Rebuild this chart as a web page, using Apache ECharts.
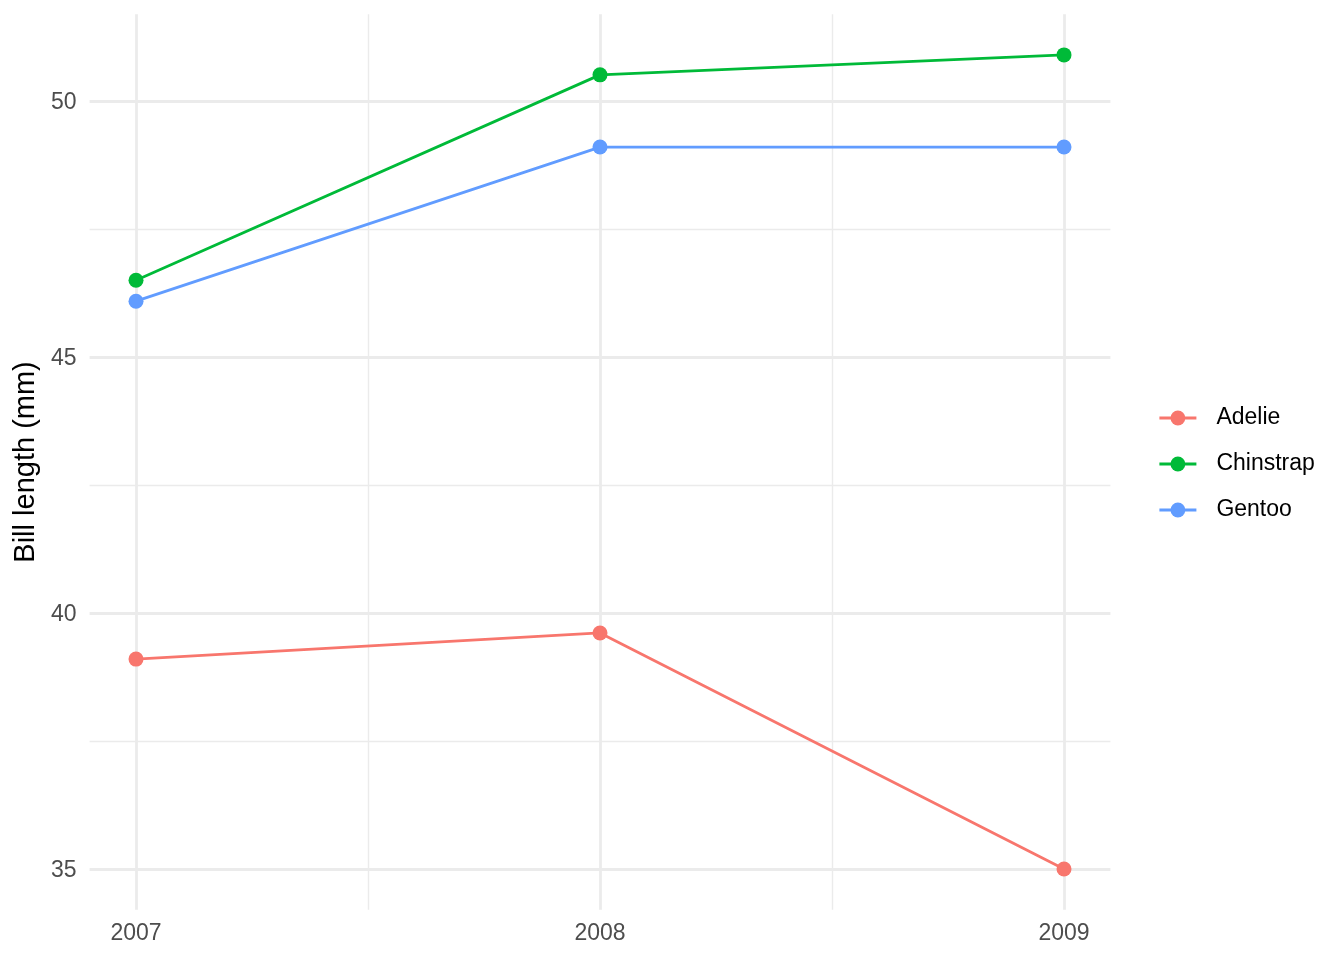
<!DOCTYPE html>
<html><head><meta charset="utf-8">
<script src="https://cdn.jsdelivr.net/npm/echarts@6/dist/echarts.min.js"></script>
<style>html,body{margin:0;padding:0;background:#fff}#c{width:1344px;height:960px}</style>
</head><body><div id="c"></div>
<script>
// ---- data ----
const years = [2007, 2008, 2009];
const speciesNames = ['Adelie', 'Chinstrap', 'Gentoo'];
const adelie = [39.10, 39.61, 35.00];
const chinstrap = [46.50, 50.51, 50.90];
const gentoo = [46.09, 49.10, 49.10];
const xTicks = [2007, 2008, 2009];
const xMinor = [2007.5, 2008.5];
const yTicks = [35, 40, 45, 50];
const yMinor = [37.5, 42.5, 47.5];
const yTitle = 'Bill length (mm)';

const colors = ['#F8766D', '#00BA38', '#619CFF'];
const FONT = '"Liberation Sans", Arial, Helvetica, sans-serif';

const xMin = 2006.9, xMax = 2009.1;
const yMin = 34.205, yMax = 51.695;

const seriesValues = [adelie, chinstrap, gentoo];

const gridLines = [];
xTicks.forEach(v => gridLines.push({xAxis: v, lineStyle: {color: '#EBEBEB', width: 2.8, type: 'solid'}}));
xMinor.forEach(v => gridLines.push({xAxis: v, lineStyle: {color: '#EBEBEB', width: 1.4, type: 'solid'}}));
yTicks.forEach(v => gridLines.push({yAxis: v, lineStyle: {color: '#EBEBEB', width: 2.8, type: 'solid'}}));
yMinor.forEach(v => gridLines.push({yAxis: v, lineStyle: {color: '#EBEBEB', width: 1.4, type: 'solid'}}));

const chart = echarts.init(document.getElementById('c'), null, {renderer: 'canvas'});
const series = [{
  type: 'line', name: '_grid', data: [], z: 1, silent: true,
  markLine: {
    z: 1, silent: true, symbol: 'none', animation: false,
    label: {show: false}, emphasis: {disabled: true},
    data: gridLines
  }
}];
speciesNames.forEach((name, i) => {
  series.push({
    type: 'line', name: name, z: 10,
    data: years.map((y, j) => [y, seriesValues[i][j]]),
    symbol: 'circle', symbolSize: 15, showSymbol: true,
    lineStyle: {color: colors[i], width: 2.8},
    itemStyle: {color: colors[i]},
    emphasis: {disabled: true}
  });
});

chart.setOption({
  animation: false,
  backgroundColor: '#ffffff',
  textStyle: {fontFamily: FONT},
  grid: {left: 89.6, right: 233.6, top: 14.2, bottom: 50.3, containLabel: false, outerBoundsMode: 'none'},
  xAxis: {
    type: 'value', min: xMin, max: xMax,
    axisLine: {show: false}, axisTick: {show: false}, splitLine: {show: false},
    axisLabel: {customValues: xTicks, color: '#4D4D4D', fontSize: 23, margin: 12, fontFamily: FONT, formatter: v => String(v)}
  },
  yAxis: {
    type: 'value', min: yMin, max: yMax,
    axisLine: {show: false}, axisTick: {show: false}, splitLine: {show: false},
    axisLabel: {customValues: yTicks, color: '#4D4D4D', fontSize: 23, margin: 13, fontFamily: FONT,
      formatter: v => '{t|' + v + '}', rich: {t: {fontSize: 23, color: '#4D4D4D', fontFamily: FONT, padding: [4, 0, 0, 0]}}},
    name: yTitle, nameLocation: 'middle', nameGap: 45,
    nameTextStyle: {color: '#000000', fontSize: 29, fontFamily: FONT}
  },
  legend: {
    data: speciesNames, orient: 'vertical', left: 1158, top: 406.5, padding: 0,
    itemWidth: 37, itemHeight: 18.5, itemGap: 23,
    lineStyle: {width: 2.8},
    textStyle: {color: '#000000', fontSize: 23, fontFamily: FONT, lineHeight: 23, padding: [0, 0, 0, 15]},
    selectedMode: false
  },
  series: series
});
</script>
</body></html>
